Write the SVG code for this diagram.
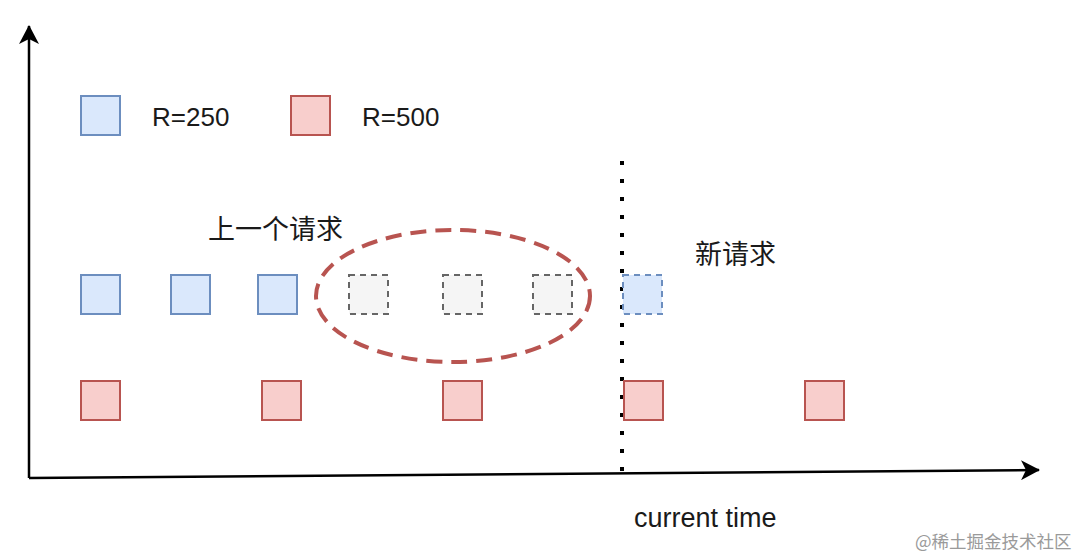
<svg xmlns="http://www.w3.org/2000/svg" width="1080" height="558" viewBox="0 0 1080 558">
<style>
.t{font-family:"Liberation Sans","Noto Sans CJK SC",sans-serif;font-size:26px;fill:#1a1a1a}
.c{font-family:"Noto Sans CJK SC",sans-serif;font-size:27px;fill:#1a1a1a}
.b{fill:#dae8fc;stroke:#6c8ebf;stroke-width:2}
.r{fill:#f8cecc;stroke:#b85450;stroke-width:2}
.g{fill:#f5f5f5;stroke:#666666;stroke-width:2;stroke-dasharray:6 5}
.bd{fill:#dae8fc;stroke:#6c8ebf;stroke-width:2;stroke-dasharray:6 5}
</style>
<defs>
<marker id="ah" markerWidth="20" markerHeight="20" refX="18" refY="10" orient="auto" markerUnits="userSpaceOnUse" viewBox="0 0 20 20">
<path d="M0,0 L19,10 L0,20 L5,10 Z" fill="#000"/>
</marker>
</defs>
<rect width="1080" height="558" fill="#fff"/>
<g id="connectors">
<line x1="29" y1="478" x2="29" y2="26" stroke="#000" stroke-width="2.5" marker-end="url(#ah)"/>
<line x1="29" y1="478" x2="1039" y2="470" stroke="#000" stroke-width="2.5" marker-end="url(#ah)"/>
<line x1="622" y1="161" x2="622" y2="474" stroke="#000" stroke-width="4" stroke-dasharray="4 14"/>
<ellipse cx="453" cy="296" rx="137" ry="66" fill="none" stroke="#b85450" stroke-width="4" stroke-dasharray="16 9"/>
</g>
<g id="legend-blue"><rect class="b" x="81" y="96" width="39" height="39"/><text class="t" x="152" y="126">R=250</text></g>
<g id="legend-red"><rect class="r" x="291" y="96" width="39" height="39"/><text class="t" x="362" y="126">R=500</text></g>
<g id="label-prev"><text class="c" x="208" y="239">上一个请求</text></g>
<g id="label-new"><text class="c" x="695" y="264">新请求</text></g>
<g id="row-250">
<rect class="b" x="81" y="275" width="39" height="39"/>
<rect class="b" x="171" y="275" width="39" height="39"/>
<rect class="b" x="258" y="275" width="39" height="39"/>
<rect class="g" x="349" y="275" width="39" height="39"/>
<rect class="g" x="443" y="275" width="39" height="39"/>
<rect class="g" x="533" y="275" width="39" height="39"/>
<rect class="bd" x="623" y="275" width="39" height="39"/>
</g>
<g id="row-500">
<rect class="r" x="81" y="381" width="39" height="39"/>
<rect class="r" x="262" y="381" width="39" height="39"/>
<rect class="r" x="443" y="381" width="39" height="39"/>
<rect class="r" x="624" y="381" width="39" height="39"/>
<rect class="r" x="805" y="381" width="39" height="39"/>
</g>
<g id="label-time"><text class="t" x="634" y="527" style="font-size:27px">current time</text></g>
<text x="915" y="548" font-family="'Noto Sans CJK SC',sans-serif" font-size="17.5" fill="#9a9a9a">@稀土掘金技术社区</text>
</svg>
